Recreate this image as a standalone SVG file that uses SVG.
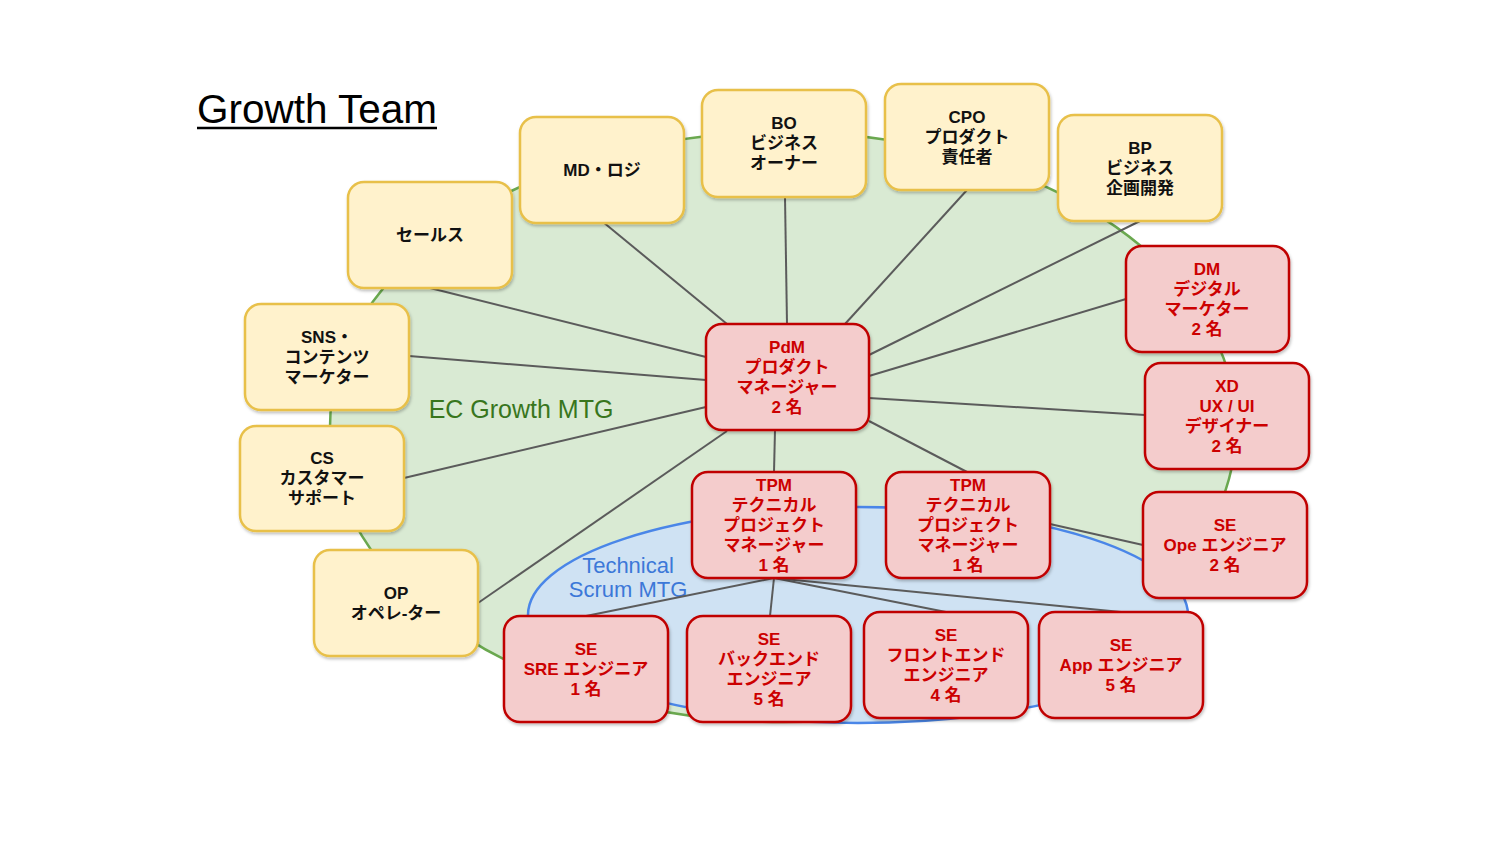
<svg xmlns="http://www.w3.org/2000/svg" width="1500" height="844" viewBox="0 0 1500 844">
<defs>
<filter id="sh" x="-10%" y="-10%" width="130%" height="130%">
<feDropShadow dx="1" dy="2" stdDeviation="1.5" flood-color="#000" flood-opacity="0.25"/>
</filter>
<style>
.y rect{fill:#fff2cc;stroke:#e8c04a;stroke-width:2.5;filter:url(#sh)}
.r rect{fill:#f4cccc;stroke:#c00000;stroke-width:2.5;filter:url(#sh)}
.y text,.r text{font-family:"Liberation Sans","Noto Sans CJK JP",sans-serif;font-size:17px;font-weight:600;text-anchor:middle;dominant-baseline:central}
.y text{fill:#111}
.r text{fill:#cc0000}
#connectors line{stroke:#5b5b5b;stroke-width:2}
</style>
</defs>
<rect width="1500" height="844" fill="#fff"/>
<text x="197" y="123" font-family="Liberation Sans,Arial,sans-serif" font-size="41" textLength="240" lengthAdjust="spacingAndGlyphs" fill="#000">Growth Team</text>
<line x1="197" y1="128" x2="437" y2="128" stroke="#000" stroke-width="2.5"/>
<g id="ec-growth-mtg">
<ellipse cx="783" cy="427" rx="453" ry="295" fill="#d9ead3" stroke="#6aa84f" stroke-width="2.5"/>
<text x="521" y="418" font-family="Liberation Sans,Arial,sans-serif" font-size="25" text-anchor="middle" fill="#38761d">EC Growth MTG</text>
</g>
<g id="technical-scrum-mtg">
<ellipse cx="858" cy="615" rx="330" ry="108" fill="#cfe2f3" stroke="#4a86e8" stroke-width="2.5"/>
<text font-family="Liberation Sans,Arial,sans-serif" font-size="22" text-anchor="middle" fill="#3c78d8"><tspan x="628" y="573">Technical</tspan><tspan x="628" y="597">Scrum MTG</tspan></text>
</g>
<g id="connectors">
<line x1="430" y1="288" x2="706" y2="357"/>
<line x1="603" y1="222" x2="727" y2="324"/>
<line x1="785" y1="197" x2="787" y2="324"/>
<line x1="967" y1="190" x2="845" y2="324"/>
<line x1="1140" y1="221" x2="869" y2="355"/>
<line x1="1126" y1="299" x2="869" y2="376"/>
<line x1="1145" y1="415" x2="869" y2="398"/>
<line x1="409" y1="356" x2="706" y2="380"/>
<line x1="404" y1="478" x2="706" y2="407"/>
<line x1="478" y1="603" x2="727" y2="431"/>
<line x1="775" y1="430" x2="774" y2="472"/>
<line x1="869" y1="421" x2="967" y2="472"/>
<line x1="1050" y1="524" x2="1143" y2="545"/>
<line x1="774" y1="578" x2="586" y2="616"/>
<line x1="774" y1="578" x2="770" y2="616"/>
<line x1="774" y1="578" x2="946" y2="612"/>
<line x1="774" y1="578" x2="1121" y2="612"/>
</g>
<g id="sales" class="y"><rect x="348" y="182" width="164" height="106" rx="16"/><text x="430" y="235">セールス</text></g>
<g id="md" class="y"><rect x="520" y="117" width="164" height="106" rx="16"/><text x="602" y="170">MD・ロジ</text></g>
<g id="bo" class="y"><rect x="702" y="90" width="164" height="107" rx="16"/><text x="784" y="123">BO</text><text x="784" y="143">ビジネス</text><text x="784" y="163">オーナー</text></g>
<g id="cpo" class="y"><rect x="885" y="84" width="164" height="106" rx="16"/><text x="967" y="117">CPO</text><text x="967" y="137">プロダクト</text><text x="967" y="157">責任者</text></g>
<g id="bp" class="y"><rect x="1058" y="115" width="164" height="106" rx="16"/><text x="1140" y="148">BP</text><text x="1140" y="168">ビジネス</text><text x="1140" y="188">企画開発</text></g>
<g id="sns" class="y"><rect x="245" y="304" width="164" height="106" rx="16"/><text x="327" y="337">SNS・</text><text x="327" y="357">コンテンツ</text><text x="327" y="377">マーケター</text></g>
<g id="cs" class="y"><rect x="240" y="426" width="164" height="105" rx="16"/><text x="322" y="458">CS</text><text x="322" y="478">カスタマー</text><text x="322" y="498">サポート</text></g>
<g id="op" class="y"><rect x="314" y="550" width="164" height="106" rx="16"/><text x="396" y="593">OP</text><text x="396" y="613">オペレ-ター</text></g>
<g id="pdm" class="r"><rect x="706" y="324" width="163" height="106" rx="16"/><text x="787" y="347">PdM</text><text x="787" y="367">プロダクト</text><text x="787" y="387">マネージャー</text><text x="787" y="407">2 名</text></g>
<g id="dm" class="r"><rect x="1126" y="246" width="163" height="106" rx="16"/><text x="1207" y="269">DM</text><text x="1207" y="289">デジタル</text><text x="1207" y="309">マーケター</text><text x="1207" y="329">2 名</text></g>
<g id="xd" class="r"><rect x="1145" y="363" width="164" height="106" rx="16"/><text x="1227" y="386">XD</text><text x="1227" y="406">UX / UI</text><text x="1227" y="426">デザイナー</text><text x="1227" y="446">2 名</text></g>
<g id="se-ope" class="r"><rect x="1143" y="492" width="164" height="106" rx="16"/><text x="1225" y="525">SE</text><text x="1225" y="545">Ope エンジニア</text><text x="1225" y="565">2 名</text></g>
<g id="tpm1" class="r"><rect x="692" y="472" width="164" height="106" rx="16"/><text x="774" y="485">TPM</text><text x="774" y="505">テクニカル</text><text x="774" y="525">プロジェクト</text><text x="774" y="545">マネージャー</text><text x="774" y="565">1 名</text></g>
<g id="tpm2" class="r"><rect x="886" y="472" width="164" height="106" rx="16"/><text x="968" y="485">TPM</text><text x="968" y="505">テクニカル</text><text x="968" y="525">プロジェクト</text><text x="968" y="545">マネージャー</text><text x="968" y="565">1 名</text></g>
<g id="se-sre" class="r"><rect x="504" y="616" width="164" height="106" rx="16"/><text x="586" y="649">SE</text><text x="586" y="669">SRE エンジニア</text><text x="586" y="689">1 名</text></g>
<g id="se-back" class="r"><rect x="687" y="616" width="164" height="106" rx="16"/><text x="769" y="639">SE</text><text x="769" y="659">バックエンド</text><text x="769" y="679">エンジニア</text><text x="769" y="699">5 名</text></g>
<g id="se-front" class="r"><rect x="864" y="612" width="164" height="106" rx="16"/><text x="946" y="635">SE</text><text x="946" y="655">フロントエンド</text><text x="946" y="675">エンジニア</text><text x="946" y="695">4 名</text></g>
<g id="se-app" class="r"><rect x="1039" y="612" width="164" height="106" rx="16"/><text x="1121" y="645">SE</text><text x="1121" y="665">App エンジニア</text><text x="1121" y="685">5 名</text></g>
</svg>
